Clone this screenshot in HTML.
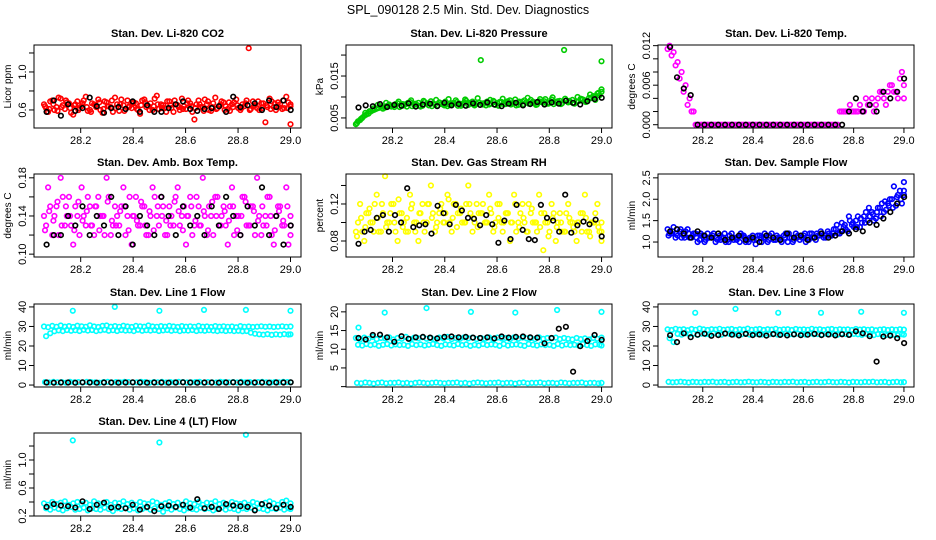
<!DOCTYPE html>
<html><head><meta charset="utf-8">
<style>
html,body{margin:0;padding:0;background:#fff;}
svg{display:block;font-family:"Liberation Sans",sans-serif;}
</style></head>
<body>
<svg id="chart" width="936" height="540" viewBox="0 0 936 540" xmlns="http://www.w3.org/2000/svg">
<rect width="936" height="540" fill="#fff"/>
<text x="468" y="14" text-anchor="middle" font-size="12.5">SPL_090128  2.5 Min. Std. Dev. Diagnostics</text>
</svg>
<script>
// ---------- data ----------
const xTicks = [28.2, 28.4, 28.6, 28.8, 29.0];
const xTickLabels = ["28.2", "28.4", "28.6", "28.8", "29.0"];
const titles = ["Stan. Dev. Li-820 CO2","Stan. Dev. Li-820 Pressure","Stan. Dev. Li-820 Temp.","Stan. Dev. Amb. Box Temp.","Stan. Dev. Gas Stream RH","Stan. Dev. Sample Flow","Stan. Dev. Line 1 Flow","Stan. Dev. Line 2 Flow","Stan. Dev. Line 3 Flow","Stan. Dev. Line 4 (LT) Flow"];
const yTitles = ["Licor ppm","kPa","degrees C","degrees C","percent","ml/min","ml/min","ml/min","ml/min","ml/min"];
const yRanges = [[0.41,1.284],[0.0026,0.0224],[-0.0005,0.0121],[0.097,0.184],[0.0627,0.1524],[0.65,2.59],[-1.0,41.5],[-0.1,22.1],[-1.0,41.5],[0.2,1.386]];
const yTickVals = [[0.6,0.8,1.0,1.2],[0.005,0.010,0.015,0.020],[0,0.002,0.004,0.006,0.008,0.010,0.012],[0.10,0.12,0.14,0.16,0.18],[0.08,0.10,0.12,0.14],[1.0,1.5,2.0,2.5],[0,10,20,30,40],[0,5,10,15,20],[0,10,20,30,40],[0.2,0.4,0.6,0.8,1.0,1.2]];
const yTickLabels = [["0.6","","1.0",""],["0.005","","0.015",""],["0.000","","","0.006","","","0.012"],["0.10","","0.14","","0.18"],["0.08","","0.12",""],["1.0","1.5","2.0","2.5"],["0","10","20","30","40"],["","5","10","15","20"],["0","10","20","30","40"],["0.2","","0.6","","1.0",""]];

// panel 1 CO2
const co2A = [0.66,0.58,0.70,0.63,0.72,0.61,0.67,0.55,0.69,0.64,0.74,0.60,0.66,0.71,0.57,0.68,0.63,0.73,0.59,0.65,0.70,0.62,0.67,0.56,0.71,0.64,0.60,0.75,0.66,0.62,0.69,0.58,0.65,0.72,0.61,0.67,0.50,0.70,0.63,0.66,0.59,0.73,0.64,0.68,0.61,0.66,0.71,0.60,0.64,1.25,0.69,0.62,0.67,0.47,0.72,0.63,0.68,0.61,0.74,0.45];
const co2B = [0.62,0.69,0.60,0.73,0.65,0.68,0.57,0.66,0.62,0.70,0.59,0.67,0.63,0.60,0.69,0.64,0.58,0.66,0.71,0.61,0.64,0.68,0.60,0.70,0.63,0.67,0.72,0.61,0.65,0.69,0.62,0.66,0.60,0.64,0.70,0.58,0.66,0.63,0.71,0.60,0.67,0.62,0.69,0.64,0.59,0.68,0.62,0.66,0.70,0.61,0.65,0.60,0.67,0.63,0.69,0.60,0.66,0.62,0.68,0.64];
const co2C = [0.64,0.61,0.66,0.59,0.63,0.70,0.62,0.65,0.60,0.67,0.63,0.58,0.65,0.68,0.61,0.64,0.70,0.62,0.66,0.59,0.63,0.67,0.61,0.65,0.68,0.60,0.64,0.66,0.62,0.58,0.65,0.70,0.63,0.61,0.67,0.64,0.62,0.66,0.59,0.69,0.63,0.61,0.66,0.60,0.68,0.63,0.65,0.62,0.67,0.60,0.64,0.69,0.62,0.65,0.61,0.67,0.63,0.70,0.62,0.66];
const co2Black = [0.58,0.70,0.54,0.66,0.59,0.62,0.73,0.64,0.57,0.62,0.63,0.61,0.69,0.58,0.65,0.58,0.58,0.62,0.66,0.69,0.61,0.59,0.61,0.62,0.64,0.58,0.74,0.63,0.65,0.67,0.60,0.70,0.63,0.70,0.60];
// panel 2 pressure
const presA = [0.0035,0.0045,0.0055,0.006,0.0068,0.0072,0.0078,0.0075,0.0082,0.008,0.0085,0.0079,0.0083,0.0088,0.0081,0.0086,0.0079,0.0084,0.009,0.0082,0.0087,0.0083,0.0078,0.0085,0.0092,0.0084,0.0087,0.0081,0.0089,0.0084,0.0188,0.0086,0.0082,0.0091,0.0085,0.0088,0.0083,0.0092,0.0086,0.0081,0.0089,0.0087,0.0093,0.0085,0.009,0.0086,0.0084,0.0094,0.0088,0.0091,0.0212,0.0087,0.0093,0.0089,0.0096,0.0092,0.0098,0.0102,0.0108,0.0185];
const presB = [0.0042,0.005,0.0058,0.0065,0.007,0.0074,0.0072,0.0079,0.0077,0.0083,0.0076,0.008,0.0086,0.0078,0.0082,0.0077,0.0088,0.008,0.0085,0.0079,0.0083,0.0089,0.0081,0.0086,0.0079,0.0083,0.0091,0.0085,0.008,0.0087,0.0082,0.0089,0.0084,0.0081,0.0088,0.0083,0.009,0.0085,0.008,0.0087,0.0092,0.0084,0.0089,0.0082,0.0088,0.0095,0.0086,0.0083,0.009,0.0085,0.0092,0.0088,0.0084,0.009,0.0094,0.0089,0.0097,0.0093,0.0104,0.0112];
const presC = [0.0038,0.0048,0.0062,0.0066,0.0073,0.0081,0.0074,0.0086,0.0079,0.0076,0.0089,0.0083,0.0077,0.0092,0.0084,0.0079,0.0091,0.0085,0.0078,0.0093,0.0086,0.0080,0.0095,0.0083,0.0088,0.0079,0.0094,0.0086,0.0082,0.0097,0.0085,0.0080,0.0093,0.0088,0.0079,0.0096,0.0087,0.0082,0.0094,0.0089,0.0083,0.0098,0.0086,0.0081,0.0095,0.0090,0.0084,0.0099,0.0087,0.0083,0.0096,0.0091,0.0085,0.0100,0.0095,0.0088,0.0106,0.0099,0.0110,0.0118];
const presBlack = [0.0075,0.008,0.0078,0.0083,0.0076,0.0081,0.0079,0.0085,0.0077,0.0082,0.0084,0.0078,0.0086,0.008,0.0083,0.0079,0.0085,0.0081,0.0087,0.0082,0.0078,0.0084,0.0086,0.008,0.0083,0.0088,0.0082,0.0087,0.0084,0.0091,0.0086,0.0082,0.009,0.0095,0.0098];
// panel 3 Li-820 temp
const tempA = [0.0115,0.0105,0.009,0.007,0.005,0.003,0.002,0,0,0,0,0,0,0,0,0,0,0,0,0,0,0,0,0,0,0,0,0,0,0,0,0,0,0,0,0,0,0,0,0,0,0,0,0.002,0.002,0.002,0.002,0.002,0.003,0.002,0.003,0.004,0.003,0.005,0.004,0.005,0.006,0.005,0.007,0.004];
const tempB = [0.012,0.011,0.0095,0.008,0.006,0.004,0.002,0,0,0,0,0,0,0,0,0,0,0,0,0,0,0,0,0,0,0,0,0,0,0,0,0,0,0,0,0,0,0,0,0,0,0,0,0.002,0.002,0.003,0.002,0.002,0.002,0.004,0.003,0.002,0.004,0.005,0.003,0.006,0.005,0.004,0.008,0.006];
const tempBlack = [0.0118,0.0072,0.0055,0.0045,0,0,0,0,0,0,0,0,0,0,0,0,0,0,0,0,0,0,0,0,0,0,0.002,0.004,0.002,0.003,0.002,0.005,0.004,0.005,0.007];
// panel 4 amb box temp
const ambA = [0.14,0.17,0.12,0.15,0.18,0.13,0.16,0.11,0.14,0.17,0.13,0.15,0.12,0.16,0.14,0.18,0.12,0.15,0.13,0.17,0.14,0.11,0.16,0.13,0.15,0.12,0.17,0.14,0.16,0.12,0.15,0.13,0.17,0.14,0.11,0.16,0.13,0.15,0.18,0.12,0.14,0.16,0.13,0.15,0.11,0.17,0.14,0.12,0.16,0.13,0.15,0.18,0.12,0.14,0.16,0.11,0.15,0.13,0.17,0.12];
const ambB = [0.13,0.15,0.14,0.12,0.16,0.14,0.13,0.15,0.12,0.14,0.16,0.13,0.15,0.14,0.12,0.16,0.13,0.14,0.15,0.12,0.16,0.14,0.13,0.15,0.12,0.14,0.16,0.13,0.15,0.12,0.14,0.16,0.13,0.15,0.14,0.12,0.16,0.13,0.14,0.15,0.12,0.16,0.14,0.13,0.15,0.12,0.14,0.16,0.13,0.15,0.12,0.14,0.13,0.16,0.12,0.14,0.15,0.13,0.11,0.14];
const ambC = [0.125,0.145,0.135,0.155,0.13,0.15,0.14,0.125,0.155,0.135,0.145,0.13,0.15,0.125,0.14,0.155,0.135,0.13,0.145,0.15,0.125,0.14,0.135,0.155,0.13,0.145,0.125,0.15,0.14,0.135,0.13,0.155,0.145,0.125,0.14,0.15,0.135,0.13,0.145,0.125,0.155,0.14,0.13,0.145,0.135,0.15,0.125,0.14,0.155,0.13,0.145,0.135,0.15,0.13,0.14,0.125,0.145,0.135,0.15,0.13];
const ambBlack = [0.11,0.12,0.12,0.14,0.13,0.15,0.12,0.14,0.13,0.16,0.12,0.15,0.11,0.14,0.13,0.12,0.16,0.14,0.12,0.15,0.13,0.14,0.12,0.15,0.13,0.16,0.14,0.12,0.15,0.13,0.17,0.12,0.14,0.11,0.13];
// panel 5 RH
const rhA = [0.09,0.12,0.08,0.11,0.10,0.13,0.09,0.15,0.10,0.12,0.08,0.11,0.09,0.13,0.10,0.08,0.12,0.10,0.14,0.09,0.11,0.10,0.13,0.09,0.12,0.11,0.10,0.14,0.09,0.12,0.11,0.10,0.13,0.09,0.12,0.10,0.11,0.08,0.13,0.10,0.12,0.09,0.11,0.10,0.13,0.07,0.10,0.12,0.08,0.11,0.09,0.12,0.10,0.08,0.11,0.13,0.09,0.10,0.12,0.08];
const rhB = [0.10,0.09,0.11,0.10,0.12,0.09,0.11,0.10,0.12,0.09,0.11,0.10,0.09,0.12,0.10,0.11,0.09,0.12,0.11,0.10,0.12,0.11,0.10,0.12,0.11,0.10,0.12,0.11,0.10,0.11,0.12,0.10,0.11,0.10,0.12,0.10,0.11,0.10,0.09,0.11,0.10,0.12,0.10,0.09,0.11,0.10,0.09,0.11,0.10,0.09,0.11,0.10,0.09,0.10,0.11,0.09,0.10,0.11,0.09,0.10];
const rhC = [0.085,0.105,0.095,0.115,0.09,0.105,0.12,0.095,0.11,0.1,0.125,0.095,0.105,0.115,0.09,0.11,0.1,0.12,0.105,0.095,0.115,0.1,0.125,0.105,0.095,0.115,0.1,0.12,0.105,0.095,0.11,0.1,0.115,0.095,0.105,0.09,0.11,0.1,0.12,0.095,0.105,0.09,0.115,0.1,0.095,0.11,0.085,0.105,0.095,0.1,0.09,0.105,0.095,0.1,0.09,0.105,0.085,0.1,0.095,0.09];
const rhBlack = [0.077,0.090,0.092,0.105,0.108,0.090,0.108,0.100,0.137,0.095,0.097,0.098,0.088,0.118,0.110,0.098,0.119,0.113,0.105,0.104,0.097,0.108,0.098,0.078,0.102,0.082,0.119,0.092,0.082,0.081,0.119,0.105,0.102,0.090,0.130,0.089,0.097,0.101,0.098,0.103,0.085];
// panel 6 sample flow
const sfA = [1.3,1.2,1.1,1.25,1.15,1.3,1.1,1.2,1.05,1.15,1.2,1.1,1.0,1.15,1.1,1.05,1.2,1.1,1.0,1.15,1.05,1.1,0.95,1.15,1.1,1.0,1.2,1.05,1.1,1.15,1.0,1.1,1.2,1.05,1.15,1.1,1.2,1.05,1.15,1.1,1.25,1.15,1.3,1.2,1.35,1.25,1.4,1.5,1.35,1.6,1.5,1.7,1.55,1.8,1.7,1.9,2.0,1.85,2.2,2.1];
const sfB = [1.2,1.35,1.15,1.1,1.25,1.1,1.2,1.0,1.15,1.05,1.1,1.2,1.05,1.1,1.0,1.15,1.05,1.1,1.15,1.0,1.1,1.05,1.15,1.0,1.1,1.15,1.05,1.1,1.0,1.2,1.1,1.05,1.15,1.1,1.0,1.2,1.1,1.15,1.2,1.1,1.15,1.3,1.2,1.45,1.3,1.5,1.35,1.6,1.45,1.7,1.6,1.5,1.8,1.9,1.75,2.0,2.3,2.1,1.9,2.4];
const sfC = [1.15,1.25,1.2,1.3,1.1,1.2,1.15,1.1,1.2,1.0,1.1,1.15,1.1,1.05,1.2,1.0,1.1,1.05,1.2,1.1,1.0,1.15,1.05,1.1,1.2,1.05,1.1,1.15,1.05,1.1,1.2,1.0,1.1,1.15,1.2,1.05,1.1,1.2,1.25,1.15,1.2,1.2,1.4,1.25,1.4,1.6,1.45,1.35,1.55,1.45,1.8,1.65,1.7,1.6,1.95,1.85,1.8,2.05,2.0,2.2];
const sfBlack = [1.25,1.3,1.2,1.1,1.25,1.15,1.1,1.2,1.05,1.1,1.15,1.05,1.1,1.0,1.15,1.1,1.05,1.2,1.1,1.15,1.05,1.1,1.2,1.1,1.15,1.25,1.2,1.3,1.25,1.45,1.4,1.55,1.7,1.9,2.05];
// panel 7 line 1
const l1A = [30,29.6,30.3,29.8,30.5,29.9,30.2,29.7,30.4,30.1,29.8,30.6,30.0,29.7,30.3,30.5,29.9,30.2,29.8,30.4,30.0,29.7,30.3,30.1,29.9,30.5,30.0,29.8,30.2,29.9,30.3,30.0,29.7,30.2,29.9,30.1,29.8,30.3,29.9,30.0,29.7,30.2,29.9,30.1,29.8,30.0,29.6,30.2,29.8,30.0,29.7,29.9,30.1,29.8,30.0,29.7,29.9,30.1,29.8,30.0];
const l1B = [25,26.5,27.5,28,27.6,28.2,27.8,28.1,27.7,28.3,27.9,28.2,27.6,28.0,28.3,27.8,28.1,27.7,28.2,27.9,28.0,27.6,28.3,27.8,28.1,27.9,28.2,27.7,28.0,28.2,27.8,28.1,27.6,28.0,27.9,28.2,27.7,28.0,27.8,28.1,27.9,27.6,28.0,27.7,27.9,27.6,27.8,27.5,27.7,26.8,26.3,26.0,25.8,26.1,25.7,26.0,25.8,26.1,25.9,26.0];
const l1C = [1.5,1.3,1.6,1.4,1.5,1.2,1.6,1.4,1.5,1.3,1.6,1.5,1.4,1.2,1.5,1.6,1.3,1.5,1.4,1.6,1.5,1.3,1.4,1.6,1.5,1.2,1.5,1.4,1.6,1.3,1.5,1.4,1.6,1.5,1.3,1.4,1.5,1.6,1.2,1.5,1.4,1.3,1.6,1.5,1.4,1.5,1.3,1.6,1.4,1.5,1.2,1.5,1.6,1.4,1.3,1.5,1.4,1.6,1.5,1.4];
const l1OutX = [28.17,28.33,28.5,28.67,28.83,29.0];
const l1OutY = [38,40,38,38.5,38.5,38];
const l1Black = [1.3,1.2,1.3,1.3,1.2,1.4,1.3,1.2,1.3,1.3,1.2,1.3,1.4,1.3,1.2,1.3,1.3,1.2,1.3,1.4,1.3,1.2,1.3,1.3,1.2,1.3,1.4,1.3,1.2,1.3,1.3,1.2,1.3,1.3,1.4];
// panel 8 line 2
const l2A = [13,12.6,13.1,12.8,13.3,12.7,13.0,12.9,13.2,12.6,13.0,12.8,13.3,12.7,13.1,12.9,13.2,12.8,13.0,12.6,13.1,12.9,13.3,12.7,13.0,12.8,13.2,12.9,13.1,12.7,13.0,12.8,13.2,12.6,13.1,12.9,13.0,12.7,13.2,12.8,13.1,12.9,13.0,12.7,13.2,12.8,13.0,12.9,13.1,12.7,13.0,12.8,12.6,13.0,12.7,12.9,12.6,13.0,12.8,13.1];
const l2B = [11.2,11.0,11.4,11.1,11.3,10.9,11.2,11.4,11.0,11.3,11.1,11.2,10.9,11.4,11.1,11.3,11.0,11.2,11.4,11.1,10.9,11.3,11.2,11.0,11.4,11.1,11.3,10.9,11.2,11.0,11.4,11.1,11.3,11.2,10.9,11.4,11.0,11.2,11.3,11.1,10.9,11.4,11.2,11.0,11.3,11.1,11.2,10.9,11.4,11.0,11.3,11.1,11.2,11.0,11.4,11.1,10.9,11.3,11.2,11.0];
const l2C = [1.0,0.9,1.1,1.0,0.8,1.0,1.1,0.9,1.0,1.0,1.1,0.9,1.0,0.8,1.0,1.1,1.0,0.9,1.0,1.1,1.0,0.9,1.0,1.0,1.1,0.9,1.0,0.8,1.0,1.1,1.0,0.9,1.0,1.0,1.1,0.9,1.0,1.0,0.8,1.0,1.1,0.9,1.0,1.0,1.1,0.9,1.0,1.0,0.9,1.1,1.0,0.9,1.0,1.0,1.1,0.9,1.0,1.0,0.9,1.0];
const l2OutX = [28.07,28.17,28.33,28.5,28.67,28.83,29.0];
const l2OutY = [15.8,19.8,21,20,19.8,20.5,20];
const l2Black = [13,12.6,13.8,13.9,13.2,12,13.5,12.8,13.2,13.3,13.1,12.9,13.3,13.4,13.2,13.3,13.1,13.0,13.2,12.9,13.4,13.1,13.3,13.4,13.2,13.1,11.6,13.0,15.5,16,4.0,10.8,12.2,13.8,12.5];
// panel 9 line 3
const l3A = [28.5,28.2,28.8,28.4,28.6,28.1,28.7,28.3,28.9,28.5,28.2,28.6,28.4,28.8,28.3,28.5,28.7,28.2,28.6,28.4,28.9,28.3,28.5,28.7,28.2,28.6,28.4,28.8,28.3,28.5,28.6,28.2,28.7,28.4,28.5,28.3,28.8,28.4,28.6,28.2,28.5,28.7,28.3,28.6,28.4,28.5,28.2,28.7,28.4,28.6,28.3,28.5,28.1,28.4,28.6,28.2,28.5,28.3,28.6,28.4];
const l3B = [24,22,26.2,25.8,26.5,26.0,26.4,25.7,26.3,26.1,25.9,26.6,26.0,25.8,26.4,26.2,25.9,26.3,26.0,26.5,25.8,26.2,26.1,25.9,26.4,26.0,26.3,25.8,26.1,26.5,26.0,25.9,26.3,26.2,25.8,26.4,26.0,26.1,25.9,26.3,26.0,26.2,25.8,26.4,26.1,25.9,26.2,26.0,25.7,26.3,26.0,25.6,26.1,25.9,25.5,26.0,25.8,25.6,26.0,25.8];
const l3C = [1.6,1.4,1.5,1.7,1.5,1.3,1.6,1.5,1.4,1.6,1.5,1.7,1.4,1.5,1.6,1.3,1.5,1.6,1.4,1.5,1.7,1.5,1.4,1.6,1.5,1.3,1.6,1.5,1.4,1.6,1.5,1.7,1.4,1.5,1.6,1.3,1.5,1.6,1.4,1.5,1.7,1.5,1.4,1.6,1.5,1.3,1.6,1.5,1.4,1.6,1.5,1.7,1.4,1.5,1.6,1.3,1.5,1.6,1.4,1.5];
const l3OutX = [28.17,28.33,28.5,28.67,28.83,29.0];
const l3OutY = [37,39,37,37,37.5,37];
const l3Black = [25.5,22,26.5,24.5,25.8,26.3,25.2,25.6,26.4,25.8,25.4,26.2,25.6,25.9,25.3,26.1,25.7,25.4,26.0,25.5,25.8,26.2,25.6,25.9,25.4,26.0,25.7,27.5,26.5,25,12,24.8,25.3,24,21.5];
// panel 10 line 4
const l4A = [0.38,0.36,0.40,0.37,0.39,0.41,0.36,0.38,0.40,0.37,0.39,0.36,0.41,0.38,0.37,0.40,0.36,0.39,0.38,0.41,0.37,0.39,0.36,0.40,0.38,0.37,0.41,0.39,0.36,0.38,0.40,0.37,0.39,0.36,0.41,0.38,0.37,0.40,0.36,0.39,0.38,0.41,0.37,0.39,0.36,0.40,0.38,0.37,0.39,0.36,0.40,0.38,0.37,0.39,0.41,0.38,0.36,0.40,0.42,0.38];
const l4B = [0.31,0.29,0.32,0.30,0.28,0.31,0.33,0.29,0.30,0.32,0.28,0.31,0.30,0.29,0.32,0.30,0.27,0.31,0.30,0.32,0.29,0.31,0.28,0.30,0.32,0.29,0.31,0.30,0.26,0.31,0.29,0.32,0.30,0.28,0.31,0.30,0.29,0.32,0.30,0.31,0.28,0.30,0.32,0.29,0.31,0.30,0.28,0.31,0.30,0.32,0.29,0.31,0.30,0.28,0.31,0.30,0.32,0.29,0.31,0.30];
const l4OutX = [28.17,28.5,28.83];
const l4OutY = [1.28,1.25,1.36];
const l4Black = [0.33,0.37,0.35,0.34,0.32,0.41,0.30,0.36,0.39,0.32,0.33,0.31,0.36,0.29,0.33,0.27,0.34,0.35,0.33,0.36,0.32,0.44,0.31,0.33,0.30,0.37,0.35,0.34,0.33,0.28,0.37,0.35,0.31,0.36,0.33];

const seriesColors = ["#ff0000","#00cc00","#ff00ff","#ff00ff","#ffff00","#0000ff","#00ffff","#00ffff","#00ffff","#00ffff"];
const colorSeries = [[co2A,co2B,co2C],[presA,presB,presC],[tempA,tempB],[ambA,ambB,ambC],[rhA,rhB,rhC],[sfA,sfB,sfC],[l1A,l1B,l1C],[l2A,l2B,l2C],[l3A,l3B,l3C],[l4A,l4B]];
const outliersX = [[],[],[],[],[],[],l1OutX,l2OutX,l3OutX,l4OutX];
const outliersY = [[],[],[],[],[],[],l1OutY,l2OutY,l3OutY,l4OutY];
const blackSeries = [co2Black,presBlack,tempBlack,ambBlack,rhBlack,sfBlack,l1Black,l2Black,l3Black,l4Black];
const xStart = 28.06, xEnd = 29.0, xMin = 28.022, xMax = 29.04;

// ---------- layout ----------
const svg = document.getElementById('chart');
const NS = 'http://www.w3.org/2000/svg';
const colsX = [[34,301],[346,612],[658,914]];
const rowsY = [45,174,304,433];
const boxH = 83;
const offsets = [0, 0.5, 0.25];
function mk(tag, attrs, parent){const e=document.createElementNS(NS,tag);for(const k in attrs)e.setAttribute(k,attrs[k]);(parent||svg).appendChild(e);return e;}

titles.forEach((title,p)=>{
  const [bx0,bx1]=colsX[p%3]; const by0=rowsY[Math.floor(p/3)]; const by1=by0+boxH;
  const [yMin,yMax]=yRanges[p];
  const sx=v=>bx0+(v-xMin)/(xMax-xMin)*(bx1-bx0);
  const sy=v=>by1-(v-yMin)/(yMax-yMin)*boxH;
  const g=mk('g',{});
  
  
  const t=mk('text',{x:(bx0+bx1)/2,y:by0-8,'text-anchor':'middle','font-size':'11','font-weight':'bold'},g);
  t.textContent=title;
  
  
  const pts=mk('g',{fill:'none','stroke-width':'1.6'},g);
  
  
  colorSeries[p].forEach((arr,si)=>{
    const n=arr.length, step=(xEnd-xStart)/(n-1), off=offsets[si%3]*step;
    arr.forEach((v,i)=>{
      const xv=Math.min(xEnd,xStart+i*step+off);
      const c=mk('circle',{cx:sx(xv).toFixed(1),cy:sy(v).toFixed(1),r:'2.3',stroke:seriesColors[p]},pts);
      
      
    });
  });
  outliersX[p].forEach((xv,i)=>{
    const c=mk('circle',{cx:sx(xv).toFixed(1),cy:sy(outliersY[p][i]).toFixed(1),r:'2.3',stroke:seriesColors[p]},pts);
    
    
  });
  const bl=blackSeries[p], bn=bl.length, bstep=(xEnd-xStart)/(bn-1);
  bl.forEach((v,i)=>{
    const c=mk('circle',{cx:sx(xStart+0.01+i*bstep*0.99).toFixed(1),cy:sy(v).toFixed(1),r:'2.3',stroke:'#000'},pts);
    
    
  });
  const box=mk('rect',{x:bx0,y:by0,width:bx1-bx0,height:boxH,fill:'none',stroke:'#000','stroke-width':'1'},g);
  
  
  const xa=mk('g',{},g);
  
  
  mk('line',{x1:sx(xTicks[0]),x2:sx(xTicks[xTicks.length-1]),y1:by1,y2:by1,stroke:'#000'},xa);
  xTicks.forEach((v,i)=>{
    mk('line',{x1:sx(v),x2:sx(v),y1:by1,y2:by1+5,stroke:'#000'},xa);
    const tl=mk('text',{x:sx(v),y:by1+16,'text-anchor':'middle','font-size':'11'},xa);
    tl.textContent=xTickLabels[i];
    
    
  });
  const ya=mk('g',{},g);
  
  
  const tv=yTickVals[p];
  mk('line',{x1:bx0,x2:bx0,y1:sy(tv[0]),y2:Math.max(by0,sy(tv[tv.length-1])),stroke:'#000'},ya);
  tv.forEach((v,i)=>{
    const yy=sy(v); if(yy<by0-0.5) return;
    mk('line',{x1:bx0-5,x2:bx0,y1:yy,y2:yy,stroke:'#000'},ya);
    const lab=yTickLabels[p][i];
    if(lab){
      const tl=mk('text',{x:bx0-8,y:yy,'text-anchor':'middle','font-size':'11',transform:`rotate(-90 ${bx0-8} ${yy})`},ya);
      tl.textContent=lab;
      
      
    }
  });
  const yt=mk('text',{x:bx0-23,y:by0+boxH/2,'text-anchor':'middle','font-size':'10',transform:`rotate(-90 ${bx0-23} ${by0+boxH/2})`},ya);
  yt.textContent=yTitles[p];
  
  
});
</script>
</body></html>
